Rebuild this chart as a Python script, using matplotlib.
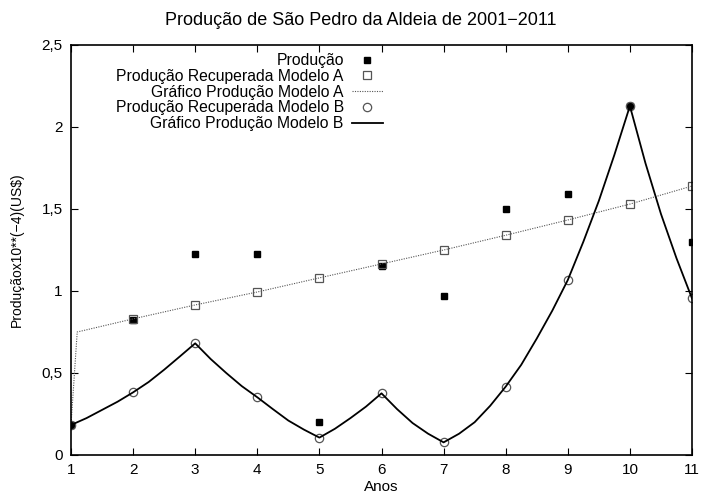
import matplotlib
matplotlib.use("Agg")
import matplotlib.pyplot as plt

plt.rcParams["font.family"] = ["Liberation Sans", "DejaVu Sans"]

anos = [1, 2, 3, 4, 5, 6, 7, 8, 9, 10, 11]
producao = [0.183, 0.823, 1.226, 1.226, 0.20, 1.152, 0.97, 1.50, 1.59, 2.128, 1.30]

# modelo A: pontos recuperados (sem x=1) e curva amostrada
anos_a = [2, 3, 4, 5, 6, 7, 8, 9, 10, 11]
modelo_a = [0.83, 0.915, 0.994, 1.08, 1.165, 1.25, 1.34, 1.433, 1.53, 1.64]
curva_a_x = [1, 1.1, 2, 3, 4, 5, 6, 7, 8, 9, 10, 11]
curva_a_y = [0.183, 0.75, 0.83, 0.915, 0.994, 1.08, 1.165, 1.25, 1.34, 1.433, 1.53, 1.64]

# modelo B: pontos recuperados e curva (passo 0,25)
modelo_b = [0.183, 0.382, 0.681, 0.352, 0.106, 0.376, 0.077, 0.417, 1.067, 2.128, 0.955]
curva_b_x = [1, 1.25, 1.5, 1.75, 2, 2.25, 2.5, 2.75, 3, 3.25, 3.5, 3.75, 4, 4.25, 4.5, 4.75,
             5, 5.25, 5.5, 5.75, 6, 6.25, 6.5, 6.75, 7, 7.25, 7.5, 7.75, 8, 8.25, 8.5, 8.75,
             9, 9.25, 9.5, 9.75, 10, 10.25, 10.5, 10.75, 11]
curva_b_y = [0.183, 0.225, 0.275, 0.325, 0.382, 0.445, 0.52, 0.60, 0.681, 0.585, 0.50, 0.42,
             0.352, 0.28, 0.21, 0.155, 0.106, 0.16, 0.225, 0.295, 0.376, 0.28, 0.195, 0.13,
             0.077, 0.13, 0.20, 0.30, 0.417, 0.55, 0.71, 0.88, 1.067, 1.30, 1.55, 1.83,
             2.128, 1.78, 1.47, 1.20, 0.955]

yticks = [0, 0.5, 1, 1.5, 2, 2.5]
ytick_labels = ["0", "0,5", "1", "1,5", "2", "2,5"]

fig = plt.figure(figsize=(7.01, 4.96), dpi=100)
ax = fig.add_axes([71 / 701, 41 / 496, 621 / 701, 410 / 496])

ax.plot(anos, producao, ls="none", marker="s", ms=5, color="black", label="Produção")
ax.plot(anos_a, modelo_a, ls="none", marker="s", ms=6, mfc="none", mec="#555555", mew=0.9,
        label="Produção Recuperada Modelo A")
ax.plot(curva_a_x, curva_a_y, ls=(0, (1, 1.2)), lw=0.8, color="#555555",
        label="Gráfico Produção Modelo A")
ax.plot(anos, modelo_b, ls="none", marker="o", ms=6, mfc="none", mec="#555555", mew=0.9,
        label="Produção Recuperada Modelo B")
ax.plot(curva_b_x, curva_b_y, ls="-", lw=1.3, color="black",
        label="Gráfico Produção Modelo B")

ax.set_xlim(1, 11)
ax.set_ylim(0, 2.5)
ax.set_xticks(anos)
ax.set_yticks(yticks)
ax.set_yticklabels(ytick_labels)
ax.tick_params(direction="in", length=5, width=0.8, top=True, right=True, labelsize=11, pad=6)
for s in ax.spines.values():
    s.set_linewidth(1.2)

ax.set_xlabel("Anos", fontsize=11, labelpad=2)
ax.set_ylabel("Produçãox10**(−4)(US\\$)", fontsize=10, labelpad=13)
fig.suptitle("Produção de São Pedro da Aldeia de 2001−2011", fontsize=13, x=0.514, y=0.975)

leg = ax.legend(loc="upper right", bbox_to_anchor=(383 / 701, 1 - 53 / 496),
                bbox_transform=fig.transFigure, frameon=False, markerfirst=False,
                fontsize=11.3, handlelength=2.0, handletextpad=0.5, labelspacing=0.05,
                borderpad=0, borderaxespad=0)

fig.savefig("out.png", dpi=100)
